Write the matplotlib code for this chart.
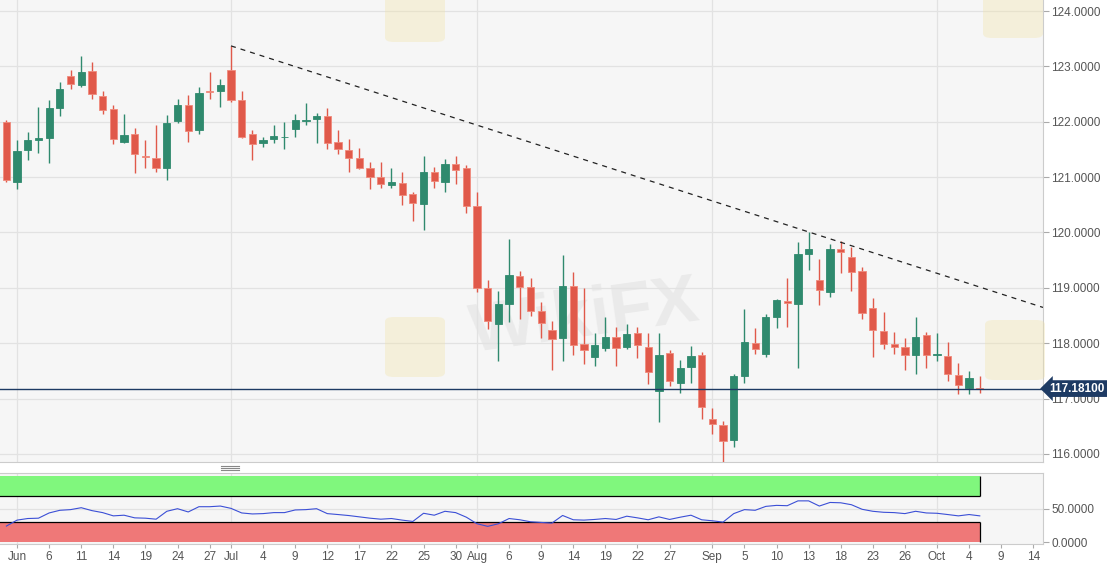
import matplotlib
matplotlib.use("Agg")
import matplotlib.pyplot as plt
import numpy as np
from matplotlib.lines import Line2D
from matplotlib.patches import FancyBboxPatch

plt.rcParams["font.family"] = ["Liberation Sans", "DejaVu Sans"]

# daily candles, first one sits just left of the "Jun" tick
opens = [122.00, 120.92, 121.49, 121.67, 121.71, 122.25, 122.83, 122.66, 122.92, 122.47,
         122.23, 121.64, 121.77, 121.39, 121.34, 121.16, 122.01, 122.31, 121.85, 122.56,
         122.56, 122.93, 122.39, 121.77, 121.61, 121.68, 121.72, 121.87, 122.01, 122.05,
         122.10, 121.64, 121.49, 121.35, 121.17, 121.00, 120.85, 120.90, 120.70, 120.51,
         121.09, 120.91, 121.24, 121.17, 120.48, 118.99, 118.35, 118.70, 119.22, 119.02,
         118.58, 118.23, 118.09, 119.04, 117.99, 117.76, 117.91, 118.12, 117.93, 118.18,
         117.94, 117.13, 117.83, 117.28, 117.57, 117.79, 116.63, 116.53, 116.25, 117.40,
         118.01, 117.81, 118.47, 118.77, 118.71, 119.61, 119.14, 118.93, 119.70, 119.56,
         119.30, 118.63, 118.22, 117.98, 117.93, 117.78, 118.15, 117.79, 117.77, 117.43,
         117.20, 117.19]
highs = [122.03, 121.67, 121.81, 122.27, 122.39, 122.72, 122.93, 123.19, 123.08, 122.56,
         122.30, 122.14, 121.88, 121.67, 121.94, 122.13, 122.41, 122.48, 122.63, 122.89,
         122.78, 123.37, 122.55, 121.85, 121.72, 121.94, 122.00, 122.14, 122.33, 122.16,
         122.24, 121.86, 121.69, 121.52, 121.27, 121.28, 121.17, 121.10, 120.74, 121.38,
         121.19, 121.32, 121.39, 121.22, 120.73, 119.14, 118.95, 119.88, 119.30, 119.18,
         118.74, 118.41, 119.59, 119.29, 118.99, 118.18, 118.48, 118.30, 118.34, 118.30,
         118.18, 118.19, 117.87, 117.69, 117.95, 117.84, 116.83, 116.59, 117.44, 118.61,
         118.27, 118.53, 118.79, 119.17, 119.82, 120.01, 119.52, 119.79, 119.85, 119.73,
         119.38, 118.81, 118.56, 118.21, 118.09, 118.48, 118.20, 118.18, 118.02, 117.65,
         117.49, 117.41]
lows = [120.92, 120.78, 121.31, 121.43, 121.25, 122.10, 122.60, 122.62, 122.42, 122.14,
        121.59, 121.61, 121.07, 121.17, 121.09, 120.95, 121.98, 121.64, 121.77, 122.41,
        122.27, 122.35, 121.71, 121.31, 121.54, 121.61, 121.50, 121.72, 121.94, 121.61,
        121.51, 121.41, 121.09, 121.15, 120.79, 120.80, 120.80, 120.49, 120.21, 120.05,
        120.80, 120.73, 120.88, 120.35, 118.93, 118.26, 117.68, 118.39, 118.44, 118.50,
        118.09, 117.52, 117.68, 117.79, 117.62, 117.59, 117.86, 117.59, 117.89, 117.73,
        117.26, 116.58, 117.22, 117.10, 117.28, 116.63, 116.36, 115.85, 116.12, 117.28,
        117.80, 117.75, 118.27, 118.29, 117.55, 119.32, 118.69, 118.83, 119.26, 118.95,
        118.44, 117.75, 117.89, 117.80, 117.52, 117.44, 117.55, 117.68, 117.31, 117.08,
        117.08, 117.11]
closes = [120.95, 121.47, 121.67, 121.70, 122.24, 122.60, 122.69, 122.89, 122.50, 122.22,
          121.68, 121.76, 121.41, 121.37, 121.17, 121.98, 122.30, 121.84, 122.52, 122.54,
          122.66, 122.39, 121.72, 121.60, 121.67, 121.75, 121.73, 122.03, 122.04, 122.11,
          121.61, 121.51, 121.35, 121.17, 121.01, 120.88, 120.91, 120.68, 120.53, 121.10,
          120.93, 121.24, 121.13, 120.48, 118.99, 118.40, 118.70, 119.24, 119.02, 118.59,
          118.36, 118.08, 119.04, 117.97, 117.87, 117.96, 118.12, 117.92, 118.17, 117.96,
          117.48, 117.79, 117.31, 117.56, 117.77, 116.84, 116.54, 116.24, 117.41, 118.02,
          117.90, 118.47, 118.78, 118.73, 119.61, 119.70, 118.96, 119.71, 119.64, 119.29,
          118.55, 118.23, 117.99, 117.94, 117.78, 118.11, 117.78, 117.80, 117.44, 117.25,
          117.38, 117.181]
rsi = [24, 33, 35.4, 35.9, 43.8, 47.8, 48.8, 51.7, 47.3, 44.3,
       39.4, 40.4, 36.4, 35.9, 34.4, 46.3, 50.2, 45.3, 53.2, 53.2,
       54.2, 50.7, 43.8, 42.3, 42.8, 44.3, 44.3, 48.3, 48.8, 50.2,
       42.8, 41.4, 39.9, 37.9, 35.9, 34.4, 35.4, 33, 31, 43.3,
       40.4, 46.3, 44.3, 37.4, 27.5, 23.6, 27.5, 35.4, 33.5, 30.5,
       29.5, 28.5, 40, 33.5, 33, 34, 35.4, 34, 38.9, 36.4,
       33.5, 37.9, 34, 37.4, 40.4, 33.5, 32, 30, 42.8, 48.8,
       47.8, 53.7, 55.2, 54.7, 62, 62, 54.2, 59.6, 59.1, 56.2,
       49.3, 46.3, 44.8, 44.3, 42.8, 46.3, 43.8, 43.3, 41.4, 39.4,
       41.4, 39.4]

tick_pos = [0, 3, 6, 9, 12, 15, 18, 20, 23, 26, 29, 32, 35, 38, 41, 43, 46, 49, 52,
            55, 58, 61, 65, 68, 71, 74, 77, 80, 83, 86, 89, 92, 95]
tick_labels = ["Jun", "6", "11", "14", "19", "24", "27", "Jul", "4", "9", "12", "17",
               "22", "25", "30", "Aug", "6", "9", "14", "19", "22", "27", "Sep", "5",
               "10", "13", "18", "23", "26", "Oct", "4", "9", "14"]
month_pos = [0, 20, 43, 65, 86]
price_ticks = [116, 117, 118, 119, 120, 121, 122, 123, 124]
rsi_ticks = [0, 50]
last_price = 117.181
trend_from, trend_to = 20, 74  # candles whose highs the resistance line joins

UP = "#2f8a6e"
DOWN = "#e0594a"
BG = "#f6f6f6"
GRID = "#e2e2e2"
TXT = "#555555"

x = np.arange(len(opens)) - 1
o = np.array(opens)
c = np.array(closes)
up = c >= o

W, H = 1114, 563
fig = plt.figure(figsize=(W / 100, H / 100), dpi=100)
fig.patch.set_facecolor("white")
ax = fig.add_axes([0, 1 - 462 / H, 1043 / W, 462 / H])
ax2 = fig.add_axes([0, 1 - 544 / H, 1043 / W, 71 / H])

xlim = (-1.595, 95.91)

# ---- price panel
ax.set_facecolor(BG)
ax.set_xlim(*xlim)
ax.set_ylim(115.855, 124.199)
ax.yaxis.tick_right()
ax.set_yticks(price_ticks)
ax.set_yticklabels([f"{p:.4f}" for p in price_ticks])
ax.tick_params(axis="y", length=4, color="#aaaaaa", labelcolor=TXT, labelsize=8.5, pad=2)
ax.set_xticks(month_pos)
ax.tick_params(axis="x", length=0, labelbottom=False)
ax.grid(True, color=GRID, lw=0.9, zorder=0)
for s in ["left", "top"]:
    ax.spines[s].set_visible(False)
for s in ["right", "bottom"]:
    ax.spines[s].set_color("#cccccc")

# watermark
ax.text(53.1, 118.45, "WikiFX", fontsize=50, fontweight="bold", color="#9a9a9a",
        alpha=0.13, ha="center", va="center", rotation=8, zorder=1)
for px, py in [(415, 12), (1013, 8), (415, 347), (1015, 350)]:
    fig.add_artist(FancyBboxPatch(((px - 30) / W, 1 - (py + 30) / H), 60 / W, 60 / H,
                                  boxstyle="round,pad=0,rounding_size=0.008",
                                  fc="#f2e3a6", ec="none", alpha=0.35, zorder=0.5))

colors = [UP if u else DOWN for u in up]
edges = [UP if u else "#f08a7c" for u in up]
ax.vlines(x, lows, highs, colors=colors, lw=1.0, zorder=3)
body = np.maximum(np.abs(c - o), 0.012)
ax.bar(x, body, bottom=np.minimum(o, c), width=0.68, color=colors,
       edgecolor=edges, lw=0.6, zorder=4)

# resistance line through two swing highs
slope = (highs[trend_to + 1] - highs[trend_from + 1]) / (trend_to - trend_from)
tx = np.array([trend_from, xlim[1]])
ax.plot(tx, highs[trend_from + 1] + slope * (tx - trend_from), color="#222222",
        lw=0.9, ls=(0, (4, 4)), zorder=5)

ax.axhline(last_price, color="#1d3a63", lw=1.0, zorder=5)
ax.text(1.006, last_price, f"{last_price:.5f}", transform=ax.get_yaxis_transform(),
        ha="left", va="center", color="white", fontsize=8.5, fontweight="bold",
        bbox=dict(boxstyle="larrow,pad=0.2", fc="#1d3a63", ec="none"), zorder=6,
        clip_on=False)

# ---- RSI panel
ax2.set_facecolor(BG)
ax2.set_xlim(*xlim)
ax2.set_ylim(-3, 104)
ax2.fill_between([xlim[0] - 1, 90], 70, 100, color="#80f77d", lw=0, zorder=1)
ax2.fill_between([xlim[0] - 1, 90], 0, 30, color="#ef7878", lw=0, zorder=1)
ax2.hlines([70, 30], xlim[0] - 1, 90, colors="black", lw=0.9, zorder=2)
ax2.vlines(90, 70, 100, colors="black", lw=0.9, zorder=2)
ax2.vlines(90, 0, 30, colors="black", lw=0.9, zorder=2)
ax2.plot(x, rsi, color="#3b4fd6", lw=0.8, zorder=3)
ax2.yaxis.tick_right()
ax2.set_yticks(rsi_ticks)
ax2.set_yticklabels([f"{v:.4f}" for v in rsi_ticks])
ax2.tick_params(axis="y", length=4, color="#aaaaaa", labelcolor=TXT, labelsize=8.5, pad=2)
ax2.set_xticks(tick_pos)
ax2.set_xticklabels(tick_labels)
ax2.tick_params(axis="x", length=3, color="#aaaaaa", labelcolor=TXT, labelsize=8.5, pad=2)
ax2.grid(False)
ax2.axhline(50, color=GRID, lw=0.9, zorder=0.5)
for m in month_pos:
    ax2.axvline(m, color=GRID, lw=0.9, zorder=0.5)
ax2.spines["left"].set_visible(False)
for s in ["right", "top", "bottom"]:
    ax2.spines[s].set_color("#cccccc")

# drag handle between panels
for yy in (466, 468, 470):
    fig.add_artist(Line2D([221 / W, 239 / W], [1 - yy / H, 1 - yy / H],
                          color="#888888", lw=0.8))

fig.savefig("out.png", dpi=100, facecolor="white")
